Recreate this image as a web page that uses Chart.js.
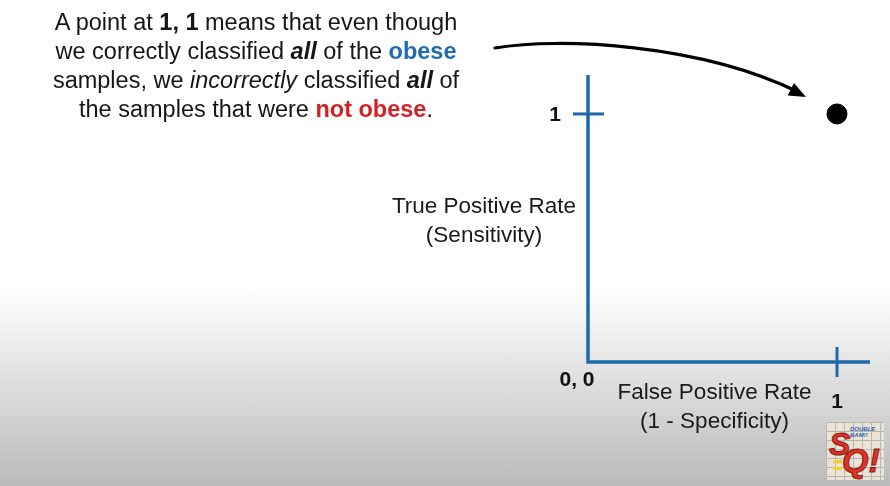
<!DOCTYPE html>
<html>
<head>
<meta charset="utf-8">
<script src="https://cdn.jsdelivr.net/npm/chart.js@4.4.1/dist/chart.umd.min.js"></script>
<style>
  html, body { margin: 0; padding: 0; }
  body {
    width: 890px; height: 486px; overflow: hidden; position: relative;
    background: linear-gradient(to bottom, #ffffff 0px, #ffffff 288px, #e6e6e6 360px, #bababa 486px);
    font-family: "Liberation Sans", Arial, Helvetica, sans-serif;
  }
  #wrap { position: absolute; left: 0; top: 0; width: 890px; height: 486px; }
  #note {
    position: absolute; left: 6px; top: 8px; width: 500px;
    text-align: center; font-size: 23.5px; line-height: 29px; color: #161616;
  }
  #note b { font-weight: bold; }
  .blue { color: #1f6db0; font-weight: bold; }
  .red { color: #d42222; font-weight: bold; }
  #logo {
    position: absolute; left: 826px; top: 422px; width: 58px; height: 58px;
    background-color: #e9e4d6;
    background-image: linear-gradient(#b9b6ad 1px, transparent 1px), linear-gradient(90deg, #b9b6ad 1px, transparent 1px);
    background-size: 9px 9px;
    font-family: "Liberation Sans", Arial, sans-serif; font-weight: bold; font-style: italic;
  }
  #logo .t { position: absolute; left: 24px; top: 4px; font-size: 6px; color: #2a62b8; line-height: 6px; }
  #logo .s { position: absolute; left: 3px; top: 6px; font-size: 32px; color: #e0322a; line-height: 32px; -webkit-text-stroke: 1px #8a1a10; }
  #logo .q { position: absolute; left: 16px; top: 21px; font-size: 34px; color: #e0322a; line-height: 34px; -webkit-text-stroke: 1px #8a1a10; }
  #logo .y { position: absolute; left: 7px; top: 38px; width: 9px; height: 3px; background: #f2d22a; box-shadow: 0 7px 0 #f2d22a; }
</style>
</head>
<body>
<div id="wrap"><canvas id="c" width="890" height="486"></canvas></div>
<div id="note">A point at <b>1, 1</b> means that even though<br>we correctly classified <b><i>all</i></b> of the <span class="blue">obese</span><br>samples, we <i>incorrectly</i> classified <b><i>all</i></b> of<br>the samples that were <span class="red">not obese</span>.</div>
<div id="logo"><span class="t">DOUBLE<br>BAM!!</span><span class="s">S</span><span class="q">Q!</span><span class="y"></span></div>
<script>
// ---- data ----
const xValues = [1];
const yValues = [1];
const xTickValues = [1];
const xTickLabels = ['1'];
const yTickValues = [1];
const yTickLabels = ['1'];
const originLabel = '0, 0';
const xTitle = ['False Positive Rate', '(1 - Specificity)'];
const yTitle = ['True Positive Rate', '(Sensitivity)'];

const AXIS_BLUE = '#1d69ab';
const FONT = '"Liberation Sans", Arial, Helvetica, sans-serif';

const rocAxes = {
  id: 'rocAxes',
  afterDatasetsDraw(chart) {
    const ctx = chart.ctx;
    const a = chart.chartArea;
    const xs = chart.scales.x, ys = chart.scales.y;
    const x0 = xs.getPixelForValue(0), y0 = ys.getPixelForValue(0);
    ctx.save();
    // axis lines
    ctx.strokeStyle = AXIS_BLUE;
    ctx.lineWidth = 3.5;
    ctx.lineJoin = 'miter';
    ctx.beginPath();
    ctx.moveTo(x0, a.top);
    ctx.lineTo(x0, y0);
    ctx.lineTo(a.right, y0);
    ctx.stroke();
    // ticks crossing the axes
    ctx.lineWidth = 3;
    yTickValues.forEach(v => {
      const py = ys.getPixelForValue(v);
      ctx.beginPath(); ctx.moveTo(x0 - 15, py); ctx.lineTo(x0 + 16, py); ctx.stroke();
    });
    xTickValues.forEach(v => {
      const px = xs.getPixelForValue(v);
      ctx.beginPath(); ctx.moveTo(px, y0 - 15); ctx.lineTo(px, y0 + 15); ctx.stroke();
    });
    // tick labels
    ctx.fillStyle = '#111';
    ctx.font = 'bold 21px ' + FONT;
    ctx.textAlign = 'center'; ctx.textBaseline = 'middle';
    yTickValues.forEach((v, i) => ctx.fillText(yTickLabels[i], x0 - 33, ys.getPixelForValue(v) + 1));
    xTickValues.forEach((v, i) => ctx.fillText(xTickLabels[i], xs.getPixelForValue(v), y0 + 40));
    ctx.fillText(originLabel, x0 - 11, y0 + 18);
    // axis titles
    ctx.font = '22.5px ' + FONT;
    ctx.fillStyle = '#1a1a1a';
    const yMid = (ys.getPixelForValue(0) + ys.getPixelForValue(1)) / 2;
    ctx.fillText(yTitle[0], x0 - 104, yMid - 31);
    ctx.fillText(yTitle[1], x0 - 104, yMid - 2);
    const xMid = (xs.getPixelForValue(0) + xs.getPixelForValue(1)) / 2;
    ctx.fillText(xTitle[0], xMid + 2, y0 + 31);
    ctx.fillText(xTitle[1], xMid + 2, y0 + 60);
    // curved arrow pointing to the point
    const px = xs.getPixelForValue(xValues[0]), py = ys.getPixelForValue(yValues[0]);
    const tipX = px - 31, tipY = py - 17;
    const sx = 495, sy = 48;
    const c1x = 560, c1y = 37, c2x = 700, c2y = 44;
    ctx.strokeStyle = '#000'; ctx.fillStyle = '#000';
    ctx.lineWidth = 3.2; ctx.lineCap = 'round';
    ctx.beginPath();
    ctx.moveTo(sx, sy);
    ctx.bezierCurveTo(c1x, c1y, c2x, c2y, tipX - 8, tipY - 5);
    ctx.stroke();
    const ang = Math.atan2(tipY - c2y, tipX - c2x);
    ctx.beginPath();
    ctx.moveTo(tipX, tipY);
    ctx.lineTo(tipX - 17 * Math.cos(ang) + 7 * Math.sin(ang), tipY - 17 * Math.sin(ang) - 7 * Math.cos(ang));
    ctx.lineTo(tipX - 17 * Math.cos(ang) - 7 * Math.sin(ang), tipY - 17 * Math.sin(ang) + 7 * Math.cos(ang));
    ctx.closePath();
    ctx.fill();
    ctx.restore();
  }
};

new Chart(document.getElementById('c'), {
  type: 'scatter',
  data: {
    datasets: [{
      data: xValues.map((x, i) => ({ x: x, y: yValues[i] })),
      backgroundColor: '#000',
      borderColor: '#000',
      pointRadius: 10,
      pointHoverRadius: 10,
      clip: false
    }]
  },
  options: {
    responsive: false,
    animation: false,
    events: [],
    layout: { padding: { left: 588, top: 75, right: 20, bottom: 124 } },
    plugins: { legend: { display: false }, tooltip: { enabled: false } },
    scales: {
      x: { type: 'linear', display: false, min: 0, max: 1.1325 },
      y: { type: 'linear', display: false, min: 0, max: 1.157 }
    }
  },
  plugins: [rocAxes]
});
</script>
</body>
</html>
